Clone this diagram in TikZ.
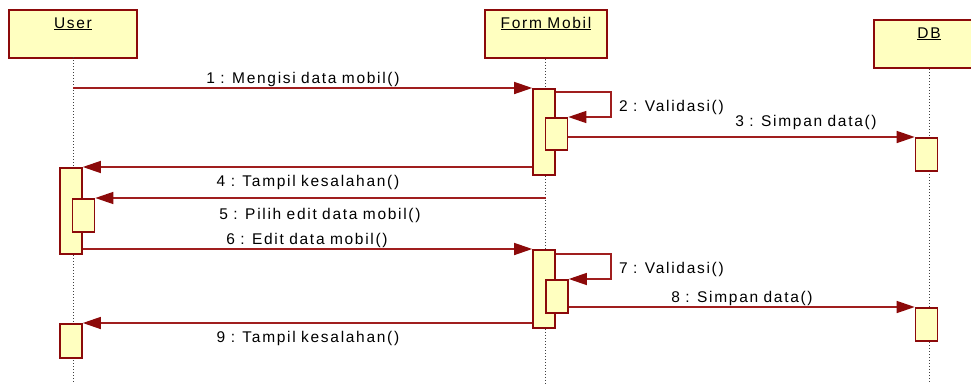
\documentclass[tikz,border=0pt]{standalone}
\usepackage{fontspec}
\newfontfamily\lblfont{Liberation Sans}[LetterSpace=11,WordSpace=0.9]
\usetikzlibrary{arrows.meta}
\definecolor{rosered}{RGB}{140,10,10}
\definecolor{roseline}{RGB}{160,30,30}
\definecolor{roseyellow}{RGB}{255,255,192}
\tikzset{
  objbox/.style={draw=rosered, fill=roseyellow, line width=1.8pt, inner sep=0pt, anchor=north west, minimum height=48pt},
  actbox/.style={draw=rosered, fill=roseyellow, line width=1.6pt, inner sep=0pt, anchor=north, minimum width=22pt},
  msg/.style={draw=roseline, line width=1.4pt, -{Triangle[length=18pt,width=12pt,fill=rosered,color=rosered]}},
  life/.style={dotted, line width=1pt, black!75},
  lbl/.style={font={\lblfont\fontsize{15.5pt}{18pt}\selectfont}, inner sep=0pt, text=black}
}
\begin{document}
\begin{tikzpicture}[x=1pt,y=-1pt]
\useasboundingbox (0,0) rectangle (971,383);
\fill[white] (0,0) rectangle (971,383);
\coordinate (bottom) at (0,383);
% objects
\node[objbox, minimum width=128pt] (user) at (8,9) {};
\node[objbox, minimum width=122pt] (form) at (484,9) {};
\node[objbox, minimum width=112pt] (db) at (873,19) {};
\node[lbl, anchor=base] (userlbl) at (73,28) {\underline{User}};
\node[lbl, anchor=base] (formlbl) at (546,28) {\underline{Form Mobil}};
\node[lbl, anchor=base] (dblbl) at (929,38) {\underline{DB}};
% lifelines
\draw[life] (73,57) -- (73,383);
\draw[life] (form.south) -- (form.south |- bottom);
\draw[life] (db.south) -- (db.south |- bottom);
% activations
\node[actbox, minimum height=86pt] (fa1) at (544,88) {};
\node[actbox, minimum height=32pt] (fn1) at (556.5,117) {};
\node[actbox, minimum height=33pt] (db1) at (926.5,137) {};
\node[actbox, minimum height=86pt] (ua1) at (71,167) {};
\node[actbox, minimum height=33pt] (un1) at (83.5,198) {};
\node[actbox, minimum height=78pt] (fa2) at (544,249) {};
\node[actbox, minimum height=33pt] (fn2) at (557,279) {};
\node[actbox, minimum height=33pt] (db2) at (926.5,307) {};
\node[actbox, minimum height=34pt] (ua3) at (71,323) {};
% messages
\coordinate (m1s) at (73,88);
\draw[msg] (m1s) -- (fa1.north west);
\draw[msg] ([yshift=-4pt]fa1.north east) -- ++(55,0) |- (fn1.north east);
\draw[msg] (db1.north west -| fn1.east) -- (db1.north west);
\draw[msg] (ua1.north east -| fa1.west) -- (ua1.north east);
\draw[msg] (un1.north east -| form.south) -- (un1.north east);
\draw[msg] (fa2.north west -| ua1.east) -- (fa2.north west);
\draw[msg] ([yshift=-5pt]fa2.north east) -- ++(55,0) |- (fn2.north east);
\draw[msg] (db2.north west -| fn2.east) -- (db2.north west);
\draw[msg] (ua3.north east -| fa2.west) -- (ua3.north east);
% labels
\node[lbl, anchor=base] (l1) at (303,83) {1 : Mengisi data mobil()};
\node[lbl, anchor=base west] (l2) at (619,111) {2 : Validasi()};
\node[lbl, anchor=base] (l3) at (806,126) {3 : Simpan data()};
\node[lbl, anchor=base] (l4) at (308,186) {4 : Tampil kesalahan()};
\node[lbl, anchor=base] (l5) at (320,219) {5 : Pilih edit data mobil()};
\node[lbl, anchor=base] (l6) at (307,244) {6 : Edit data mobil()};
\node[lbl, anchor=base west] (l7) at (619,273) {7 : Validasi()};
\node[lbl, anchor=base] (l8) at (742,302) {8 : Simpan data()};
\node[lbl, anchor=base] (l9) at (308,342) {9 : Tampil kesalahan()};
\end{tikzpicture}
\end{document}
